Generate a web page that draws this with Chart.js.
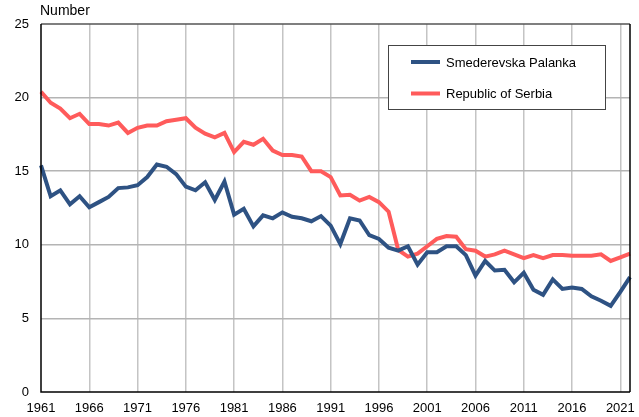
<!DOCTYPE html>
<html>
<head>
<meta charset="utf-8">
<script src="https://cdn.jsdelivr.net/npm/chart.js@4"></script>
<style>
  html, body { margin: 0; padding: 0; background: #fff; }
  #wrap { width: 639px; height: 417px; position: relative; }
</style>
</head>
<body>
<div id="wrap"><canvas id="lineChart"></canvas></div>
<script>
const years = [];
for (let y = 1961; y <= 2022; y++) years.push(String(y));

const palanka = [
  15.4, 13.3, 13.7, 12.75, 13.3, 12.55, 12.9, 13.25, 13.85, 13.9,
  14.05, 14.6, 15.45, 15.3, 14.8, 13.95, 13.7, 14.25, 13.05, 14.3,
  12.05, 12.45, 11.25, 12.0, 11.8, 12.2, 11.9, 11.8, 11.6, 11.95,
  11.3, 10.05, 11.8, 11.65, 10.65, 10.4, 9.8, 9.6, 9.9, 8.65,
  9.5, 9.5, 9.9, 9.9, 9.3, 7.9, 8.9, 8.25, 8.3, 7.45,
  8.1, 6.95, 6.6, 7.65, 7.0, 7.1, 7.0, 6.5, 6.2, 5.85,
  6.8, 7.8
];
const serbia = [
  20.4, 19.65, 19.25, 18.6, 18.9, 18.2, 18.2, 18.1, 18.3, 17.6,
  17.95, 18.1, 18.1, 18.4, 18.5, 18.6, 17.95, 17.55, 17.3, 17.6,
  16.3, 17.0, 16.8, 17.2, 16.4, 16.1, 16.1, 16.0, 15.0, 15.0,
  14.6, 13.35, 13.4, 13.0, 13.25, 12.9, 12.25, 9.65, 9.2, 9.4,
  9.9, 10.4, 10.6, 10.55, 9.7, 9.6, 9.2, 9.35, 9.6, 9.35,
  9.1, 9.3, 9.1, 9.3, 9.3, 9.25, 9.25, 9.25, 9.35, 8.9,
  9.15, 9.4
];

const FONT = '"Liberation Sans", Arial, sans-serif';

// frame, "Number" label and legend box
const extras = {
  id: 'extras',
  afterDraw(chart) {
    const { ctx, chartArea: a } = chart;
    ctx.save();
    ctx.lineWidth = 1.5;
    ctx.strokeStyle = '#555';
    ctx.beginPath();
    ctx.moveTo(a.left, a.top); ctx.lineTo(a.right, a.top);
    ctx.stroke();
    ctx.strokeStyle = '#000';
    ctx.beginPath();
    ctx.moveTo(a.right, a.top); ctx.lineTo(a.right, a.bottom);
    ctx.moveTo(a.left, a.top); ctx.lineTo(a.left, a.bottom); ctx.lineTo(a.right, a.bottom);
    ctx.stroke();

    ctx.fillStyle = '#000';
    ctx.font = '14px ' + FONT;
    ctx.textBaseline = 'middle';
    ctx.fillText('Number', 40, 11);

    // legend
    ctx.fillStyle = '#fff';
    ctx.fillRect(388.5, 45.5, 217, 64);
    ctx.lineWidth = 1;
    ctx.strokeStyle = '#444';
    ctx.strokeRect(388.5, 45.5, 217, 64);
    ctx.font = '13px ' + FONT;
    chart.data.datasets.forEach((ds, i) => {
      const y = 62 + i * 31.5;
      ctx.strokeStyle = ds.borderColor;
      ctx.lineWidth = 4;
      ctx.beginPath();
      ctx.moveTo(411, y); ctx.lineTo(440, y);
      ctx.stroke();
      ctx.fillStyle = '#000';
      ctx.fillText(ds.label, 446, y + 1);
    });
    ctx.restore();
  }
};

new Chart(document.getElementById('lineChart'), {
  type: 'line',
  data: {
    labels: years,
    datasets: [{
      label: 'Smederevska Palanka',
      data: palanka,
      borderColor: '#2e5283',
      borderWidth: 4,
      pointRadius: 0,
      tension: 0
    }, {
      label: 'Republic of Serbia',
      data: serbia,
      borderColor: '#ff5b5b',
      borderWidth: 4,
      pointRadius: 0,
      tension: 0
    }]
  },
  options: {
    responsive: true,
    maintainAspectRatio: false,
    animation: false,
    layout: { padding: { top: 24, right: 9, left: 0, bottom: 0 } },
    plugins: { legend: { display: false }, tooltip: { enabled: false } },
    scales: {
      x: {
        offset: false,
        border: { display: false },
        grid: {
          drawTicks: false,
          color: (c) => (c.index % 5 === 0 && c.index !== 0) ? '#c4c4c4' : 'rgba(0,0,0,0)',
          lineWidth: 1.5
        },
        ticks: {
          autoSkip: false,
          maxRotation: 0,
          padding: 9,
          color: '#000',
          font: { family: FONT, size: 13 },
          callback: (v, i) => i % 5 === 0 ? years[i] : ''
        },
        afterFit: (s) => { s.height = 25; }
      },
      y: {
        min: 0,
        max: 25,
        border: { display: false },
        grid: {
          drawTicks: false,
          color: (c) => (c.tick.value > 0 && c.tick.value < 25) ? '#b4b4b4' : 'rgba(0,0,0,0)',
          lineWidth: 1.5
        },
        ticks: {
          stepSize: 5,
          padding: 12,
          color: '#000',
          font: { family: FONT, size: 13 }
        },
        afterFit: (s) => { s.width = 41; }
      }
    }
  },
  plugins: [extras]
});
</script>
</body>
</html>
